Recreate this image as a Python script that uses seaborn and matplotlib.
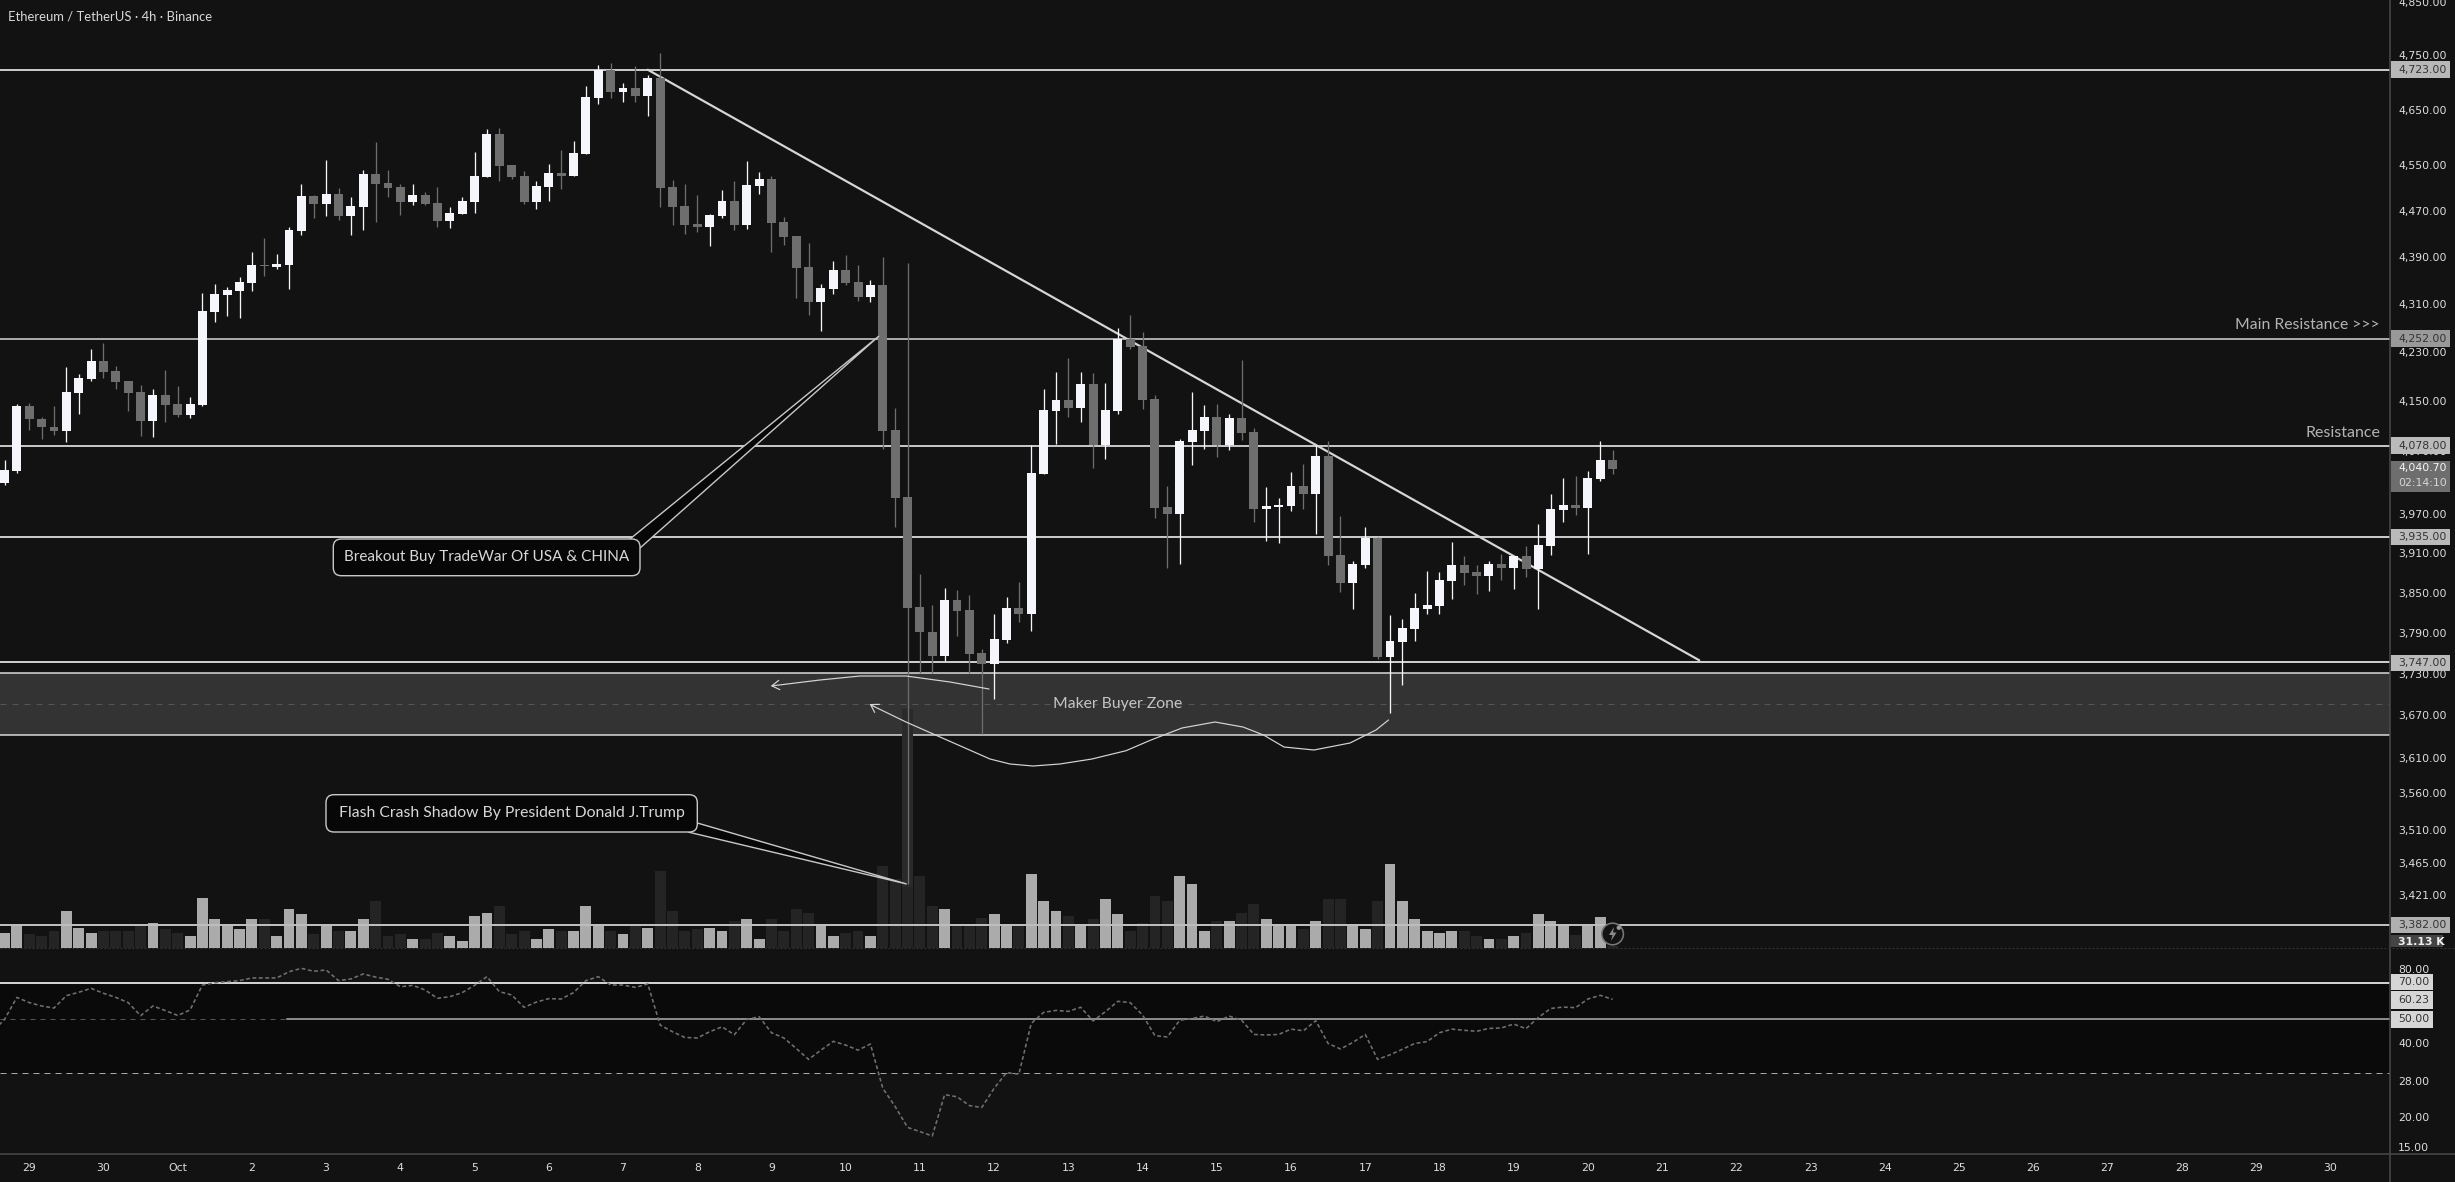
import matplotlib
matplotlib.use("Agg")
import matplotlib.pyplot as plt
import numpy as np
import pandas as pd
import seaborn as sns
from matplotlib.patches import Circle, FancyBboxPatch, Polygon, Rectangle
from matplotlib.ticker import NullLocator


# ======================================
# DATA
# ======================================

open_ = [
    4019, 4038, 4142, 4121, 4107, 4101, 4163, 4185, 4215, 4199, 4182, 4164, 4117, 4159, 4145, 4127, 4143, 4296, 4325, 4332, 4345, 4376, 4373, 4376, 4435, 4496, 4482,
    4499, 4461, 4476, 4534, 4519, 4511, 4485, 4497, 4483, 4452, 4464, 4485, 4529, 4606, 4550, 4531, 4485, 4511, 4536, 4531, 4570, 4671, 4722, 4682, 4689, 4675, 4708,
    4511, 4478, 4447, 4442, 4461, 4487, 4445, 4513, 4526, 4450, 4426, 4373, 4313, 4335, 4368, 4347, 4322, 4342, 4103, 3997, 3829, 3792, 3756, 3839, 3824, 3761, 3745,
    3780, 3827, 3818, 4033, 4133, 4151, 4138, 4177, 4079, 4133, 4251, 4240, 4153, 3981, 3970, 4084, 4101, 4124, 4079, 4122, 4100, 3978, 3981, 3983, 4014, 4002, 4061,
    3907, 3865, 3892, 3933, 3755, 3777, 3796, 3826, 3830, 3868, 3892, 3882, 3875, 3894, 3888, 3906, 3886, 3921, 3977, 3984, 3980, 4025, 4055,
]
high = [
    4055, 4145, 4147, 4124, 4141, 4205, 4194, 4235, 4245, 4207, 4182, 4176, 4169, 4200, 4174, 4157, 4328, 4344, 4339, 4356, 4398, 4422, 4395, 4441, 4517, 4497, 4559,
    4510, 4494, 4542, 4591, 4542, 4517, 4517, 4503, 4512, 4476, 4494, 4574, 4615, 4617, 4550, 4540, 4522, 4552, 4577, 4593, 4693, 4732, 4735, 4699, 4730, 4713, 4754,
    4524, 4517, 4497, 4464, 4506, 4522, 4558, 4538, 4531, 4459, 4426, 4414, 4344, 4383, 4393, 4376, 4351, 4390, 4138, 4380, 3879, 3832, 3857, 3854, 3847, 3767, 3818,
    3844, 3866, 4079, 4169, 4197, 4220, 4197, 4195, 4179, 4269, 4291, 4263, 4159, 4014, 4089, 4164, 4143, 4145, 4129, 4217, 4106, 4013, 3995, 4036, 4049, 4079, 4085,
    3967, 3898, 3950, 3935, 3817, 3811, 3850, 3883, 3882, 3927, 3906, 3892, 3898, 3909, 3906, 3921, 3955, 4002, 4027, 4030, 4038, 4085, 4071,
]
low = [
    4016, 4035, 4103, 4088, 4095, 4083, 4129, 4183, 4187, 4169, 4134, 4093, 4092, 4116, 4124, 4123, 4142, 4280, 4289, 4287, 4332, 4358, 4370, 4336, 4427, 4458, 4461,
    4454, 4428, 4436, 4450, 4494, 4462, 4480, 4480, 4442, 4440, 4464, 4466, 4529, 4522, 4526, 4482, 4473, 4487, 4508, 4531, 4570, 4660, 4671, 4664, 4664, 4638, 4476,
    4445, 4429, 4433, 4409, 4457, 4436, 4438, 4499, 4398, 4410, 4320, 4291, 4265, 4327, 4342, 4315, 4313, 4073, 3951, 3436, 3731, 3732, 3749, 3786, 3731, 3644, 3694,
    3776, 3806, 3793, 4033, 4081, 4124, 4116, 4042, 4057, 4129, 4235, 4137, 3964, 3888, 3894, 4047, 4073, 4060, 4071, 4087, 3958, 3929, 3926, 3975, 3978, 3940, 3892,
    3851, 3826, 3888, 3752, 3674, 3714, 3778, 3818, 3818, 3841, 3862, 3848, 3853, 3869, 3856, 3874, 3826, 3907, 3958, 3969, 3909, 4022, 4033,
]
close = [
    4039, 4142, 4120, 4107, 4101, 4164, 4187, 4215, 4197, 4181, 4163, 4117, 4159, 4143, 4127, 4145, 4298, 4327, 4334, 4347, 4376, 4374, 4378, 4436, 4496, 4482, 4499,
    4461, 4478, 4534, 4517, 4510, 4485, 4497, 4482, 4452, 4466, 4487, 4531, 4606, 4549, 4529, 4485, 4513, 4536, 4531, 4572, 4673, 4722, 4682, 4689, 4675, 4708, 4510,
    4476, 4445, 4442, 4462, 4487, 4445, 4515, 4526, 4448, 4424, 4371, 4313, 4337, 4368, 4345, 4322, 4342, 4102, 3995, 3828, 3791, 3756, 3839, 3823, 3759, 3745, 3781,
    3827, 3818, 4035, 4135, 4151, 4138, 4177, 4079, 4135, 4251, 4238, 4151, 3980, 3970, 4085, 4103, 4124, 4079, 4122, 4098, 3978, 3983, 3984, 4014, 4002, 4061, 3906,
    3865, 3894, 3933, 3755, 3778, 3798, 3827, 3832, 3869, 3892, 3880, 3875, 3894, 3888, 3906, 3886, 3923, 3978, 3984, 3980, 4027, 4055, 4040.7,
]
volume = [
    234, 374, 203, 172, 265, 562, 312, 234, 250, 265, 265, 343, 390, 296, 234, 187, 780, 437, 359, 296, 452, 452, 172, 593, 530, 203, 343, 265, 265, 437, 733, 172, 203, 140, 125, 234, 172, 94, 499, 546, 655, 203,
    265, 125, 296, 250, 265, 640, 374, 265, 203, 328, 312, 1201, 577, 265, 296, 312, 265, 406, 437, 125, 437, 250, 608, 546, 359, 172, 234, 250, 172, 1279, 1071, 993, 1123, 655, 608, 374, 343, 468, 530, 343, 343, 1139,
    733, 577, 499, 343, 437, 764, 515, 265, 390, 811, 733, 1123, 998, 265, 421, 406, 546, 686, 437, 343, 343, 281, 421, 764, 749, 343, 281, 733, 1295, 733, 437, 265, 234, 265, 250, 187, 140, 125, 187, 234, 530, 421,
    348, 192, 348, 473, 31,
]
# one bar longer, the line comes in from off the left edge
rsi = [
    44.2, 49.7, 61.1, 58.2, 56.4, 55.3, 62.1, 64.1, 66.5, 63.5, 61.1, 58.2, 51.5, 56.4, 54.0, 51.6, 54.3, 68.6, 70.1, 70.8, 71.5, 73.3, 73.3, 73.3, 77.7, 80.2, 78.0, 79.0, 71.5, 72.6, 76.1, 73.9, 72.4,
    67.5, 68.4, 65.5, 60.6, 61.5, 63.9, 68.4, 74.2, 64.5, 62.5, 55.7, 58.5, 60.4, 60.2, 63.9, 71.5, 74.2, 68.6, 68.6, 67.1, 69.3, 47.2, 44.3, 42.0, 41.8, 44.3, 46.4, 43.1, 49.7, 51.0, 43.9, 41.8, 37.9,
    34.2, 37.3, 40.5, 39.1, 37.3, 39.5, 26.1, 22.0, 18.1, 17.4, 16.7, 24.6, 24.1, 22.2, 21.8, 26.1, 30.2, 29.8, 47.9, 53.1, 54.1, 53.6, 55.7, 49.0, 53.5, 58.9, 58.2, 51.8, 42.7, 42.2, 49.3, 50.2, 51.3,
    48.7, 51.3, 49.4, 43.2, 43.0, 43.2, 45.4, 44.7, 49.1, 39.7, 37.7, 40.1, 43.2, 34.2, 35.7, 37.6, 39.7, 40.4, 43.9, 45.4, 44.9, 44.5, 45.7, 45.9, 47.6, 45.6, 50.7, 55.1, 55.8, 55.5, 60.2, 62.3, 60.0,
]

day_labels = ["29", "30", "Oct"] + [str(d) for d in range(2, 31)]
day_bars = [2, 8] + [14 + 6 * i for i in range(30)]

price_ticks = [4850, 4750, 4650, 4550, 4470, 4390, 4310, 4230, 4150, 4070, 3970, 3910, 3850, 3790, 3730, 3670, 3610, 3560, 3510, 3465, 3421]
rsi_ticks = [80, 40, 28, 20, 15]

levels = [4723, 4252, 4078, 3935, 3747, 3382]
level_colors = ["#c8c8c8", "#a8a8a8", "#c4c4c4", "#c8c8c8", "#cccccc", "#bdbdbd"]
level_tag_colors = ["#b8b8b8", "#999999", "#bababa", "#bababa", "#bababa", "#b0b0b0"]

zone_low, zone_high = 3642.5, 3731.6
trend_bars = [52, 137]
trend_prices = [4723, 3750]

open_ = np.array(open_)
high = np.array(high)
low = np.array(low)
close = np.array(close)
bars = np.arange(len(open_))
rsi_bars = np.arange(-1, len(open_))
up = close >= open_


# ======================================
# FIGURE
# ======================================

BG = "#121212"
W, H = 2455, 1182
PX = 0.72
TICK = "#dedede"
ANN = ["Lato", "DejaVu Sans"]

sns.set_theme(style="dark", rc={"figure.facecolor": BG, "axes.facecolor": BG, "axes.grid": False})
plt.rcParams["font.family"] = ["DejaVu Sans"]

fig = plt.figure(figsize=(W / 100, H / 100), dpi=100)


def panel(y0, y1):
    return fig.add_axes([0, 1 - y1 / H, 2390 / W, (y1 - y0) / H])


ax_vol = panel(0, 947.5)
ax = ax_vol.twinx()
ax.set_zorder(ax_vol.get_zorder() + 1)
ax.patch.set_visible(False)
ax_rsi = panel(947.5, 1154)


# ======================================
# VOLUME
# ======================================

vol_df = pd.DataFrame({"bar": bars, "volume": volume, "side": np.where(up, "up", "down")})

sns.barplot(
    data=vol_df, x="bar", y="volume", hue="side", native_scale=True, dodge=False, width=0.88,
    palette={"up": "#ababab", "down": "#242424"}, saturation=1, legend=False, ax=ax_vol, linewidth=0
)
ax_vol.set_ylim(0, 14781)
ax_vol.set_xlabel("")
ax_vol.set_ylabel("")
ax_vol.set_yticks([])
ax_vol.set_xticks([])


# ======================================
# PRICE
# ======================================

ax.set_yscale("log")
ax.set_ylim(3352, 4853.4)

ax.axhspan(zone_low, zone_high, color="#333333", lw=0, zorder=1)
ax.axhline(zone_high, color="#dddddd", lw=1.5 * PX, zorder=1.5)
ax.axhline(zone_low, color="#dddddd", lw=1.5 * PX, zorder=1.5)
ax.axhline((zone_low + zone_high) / 2, color="#555555", lw=1 * PX, ls=(0, (6, 6)), zorder=1.5)

for lev, col in zip(levels, level_colors):
    ax.axhline(lev, color=col, lw=2 * PX, zorder=2)

ax.plot(trend_bars, trend_prices, color="#d6d6d6", lw=2.2 * PX, zorder=2.5)

# dark shadow behind the flash crash wick
ax.bar(73, 3679 - 3432, bottom=3432, width=0.82, color="#2a2a2a", lw=0, zorder=2.9)

for mask, col in [(up, "#f4f6fb"), (~up, "#6e6e6e")]:
    ax.vlines(bars[mask], low[mask], high[mask], color=col, lw=1.3 * PX, zorder=3)
    ax.bar(
        bars[mask], np.abs(close - open_)[mask], bottom=np.minimum(open_, close)[mask],
        width=0.72, color=col, lw=0, zorder=3.2
    )

ax.set_xlim(-0.364, 192.84)
ax.yaxis.tick_right()
ax.set_yticks(price_ticks)
ax.set_yticklabels([f"{t:,.2f}" for t in price_ticks])
ax.yaxis.set_minor_locator(NullLocator())
ax.tick_params(axis="y", length=0, pad=5.8, labelsize=7.8, colors=TICK, which="both", labelright=True)
ax.set_xticks([])


# ======================================
# RSI
# ======================================

ax_rsi.set_yscale("log")
ax_rsi.set_ylim(14.11, 97.47)

ax_rsi.axhspan(30, 70, color="#0a0a0a", lw=0, zorder=1)
ax_rsi.axhline(70, color="#d0d0d0", lw=2 * PX, zorder=2)
ax_rsi.plot([-0.364, 22.8], [50, 50], color="#555555", lw=1 * PX, ls=(0, (5, 5)), zorder=2)
ax_rsi.plot([22.8, 192.84], [50, 50], color="#8a8a8a", lw=2 * PX, zorder=2)
ax_rsi.axhline(30, color="#a8a8a8", lw=1 * PX, ls=(0, (6, 5)), zorder=2)

sns.lineplot(x=rsi_bars, y=rsi, color="#707070", lw=1.6 * PX, ls=(0, (2.4, 1.6)), ax=ax_rsi, zorder=3)

ax_rsi.set_xlim(-0.364, 192.84)
ax_rsi.yaxis.tick_right()
ax_rsi.set_yticks(rsi_ticks)
ax_rsi.set_yticklabels([f"{t:.2f}" for t in rsi_ticks])
ax_rsi.yaxis.set_minor_locator(NullLocator())
ax_rsi.tick_params(axis="y", length=0, pad=5.8, labelsize=7.8, colors=TICK, which="both")
ax_rsi.set_xticks(day_bars)
ax_rsi.set_xticklabels(day_labels)
ax_rsi.tick_params(axis="x", length=0, pad=6.5, labelsize=7.8, colors=TICK)

for a in (ax_vol, ax, ax_rsi):
    for s in a.spines.values():
        s.set_visible(False)


# ======================================
# OVERLAY: DRAWING TOOLS AND PRICE TAGS
# ======================================

ov = fig.add_axes([0, 0, 1, 1], zorder=10)
ov.set_xlim(0, W)
ov.set_ylim(H, 0)
ov.axis("off")
ov.patch.set_visible(False)

ov.plot([2390, 2390], [0, H], color="#4a4a4a", lw=1.5 * PX)
ov.plot([0, W], [1154, 1154], color="#4a4a4a", lw=1.5 * PX)
ov.plot([0, W], [947.5, 947.5], color="#333333", lw=1 * PX, ls=(0, (2, 2)))


def tag(y, text, bg, fg="#333333", right=2450, h=16.5):
    ov.add_patch(Rectangle((2390.5, y - h / 2), right - 2390.5, h, color=bg, lw=0))
    ov.text(2398, y, text, color=fg, fontsize=7.8, va="center", ha="left")


level_tag_y = [69.7, 338.7, 445.7, 537, 663, 924.8]
for y, lev, col in zip(level_tag_y, levels, level_tag_colors):
    tag(y, f"{lev:,.2f}", col)

ov.add_patch(Rectangle((2390.5, 461), 59.5, 31, color="#6e6e6e", lw=0))
ov.text(2398, 468.5, "4,040.70", color="#f6f6f6", fontsize=7.8, va="center")
ov.text(2398, 482.5, "02:14:10", color="#d6d6d6", fontsize=7.8, va="center")

ov.add_patch(Rectangle((2390.5, 935), 52, 12, color="#444444", lw=0))
ov.text(2398, 942, "31.13 K", color="#f0f0f0", fontsize=7.8, va="center", weight="bold")

tag(982, "70.00", "#d6d6d6", right=2433)
tag(1000, "60.23", "#d6d6d6", right=2433, h=18)
tag(1019.5, "50.00", "#d6d6d6", right=2433)


def callout(x0, y0, x1, y1, text, tip, size):
    ov.add_patch(Polygon(tip, closed=True, fc="#070707", ec="#c8c8c8", lw=1.4 * PX, zorder=5))
    ov.add_patch(FancyBboxPatch(
        (x0 + 8, y0 + 8), x1 - x0 - 16, y1 - y0 - 16, boxstyle="round,pad=8,rounding_size=8",
        fc="#070707", ec="#c8c8c8", lw=1.4 * PX, zorder=6
    ))
    ov.text((x0 + x1) / 2, (y0 + y1) / 2, text, color="#d8d8d8", fontsize=size, family=ANN, ha="center", va="center", zorder=7)


callout(333.3, 539, 640, 575.7, "Breakout Buy TradeWar Of USA & CHINA", [(630, 539), (879, 336), (640, 548)], 10.95)
callout(326, 794.7, 697.3, 832, "Flash Crash Shadow By President Donald J.Trump", [(688, 832), (906.7, 884), (697.3, 823)], 11.35)

ov.text(8, 16.7, "Ethereum / TetherUS · 4h · Binance", color="#d8d8d8", fontsize=9.4, family=ANN, va="center")
ov.text(2380, 325, "Main Resistance >>>", color="#b4b4b4", fontsize=11.3, family=ANN, ha="right", va="center")
ov.text(2380, 433, "Resistance", color="#b4b4b4", fontsize=11.5, family=ANN, ha="right", va="center")
ov.text(1117.5, 703.7, "Maker Buyer Zone", color="#c4c4c4", fontsize=11.3, family=ANN, ha="center", va="center")

curve_a = [(989, 689), (950, 682), (906, 676), (860, 676), (820, 680), (775, 685.5)]
curve_b = [
    (1388.5, 720), (1376, 730), (1350, 743), (1314, 750), (1284, 747), (1263.5, 735), (1243, 727), (1215, 722),
    (1182, 728), (1151, 740), (1126, 750.7), (1092, 759), (1060, 764), (1033, 766), (1010, 764), (990, 759),
    (906, 722), (873, 706)
]
for curve, head in [(curve_a, (770.7, 686)), (curve_b, (869.6, 704))]:
    ov.plot(*zip(*curve), color="#d4d4d4", lw=1.2 * PX, solid_joinstyle="round", zorder=4)
    ov.annotate(
        "", xy=head, xytext=curve[-1], zorder=4,
        arrowprops=dict(arrowstyle="->,head_length=0.45,head_width=0.28", color="#d4d4d4", lw=1.2 * PX, shrinkA=0, shrinkB=0)
    )

ov.add_patch(Circle((1612.6, 934), 10.8, fc=BG, ec="#777777", lw=1.6 * PX, zorder=5))
ov.add_patch(Polygon([(1614, 927), (1609, 935), (1612.5, 935), (1611, 941), (1616.5, 932.5), (1613, 932.5)], fc="#8a8a8a", lw=0, zorder=6))
ov.add_patch(Circle((1618.8, 927.7), 2.2, fc="#999999", lw=0, zorder=6))

fig.savefig("out.png", dpi=100, facecolor=BG)
